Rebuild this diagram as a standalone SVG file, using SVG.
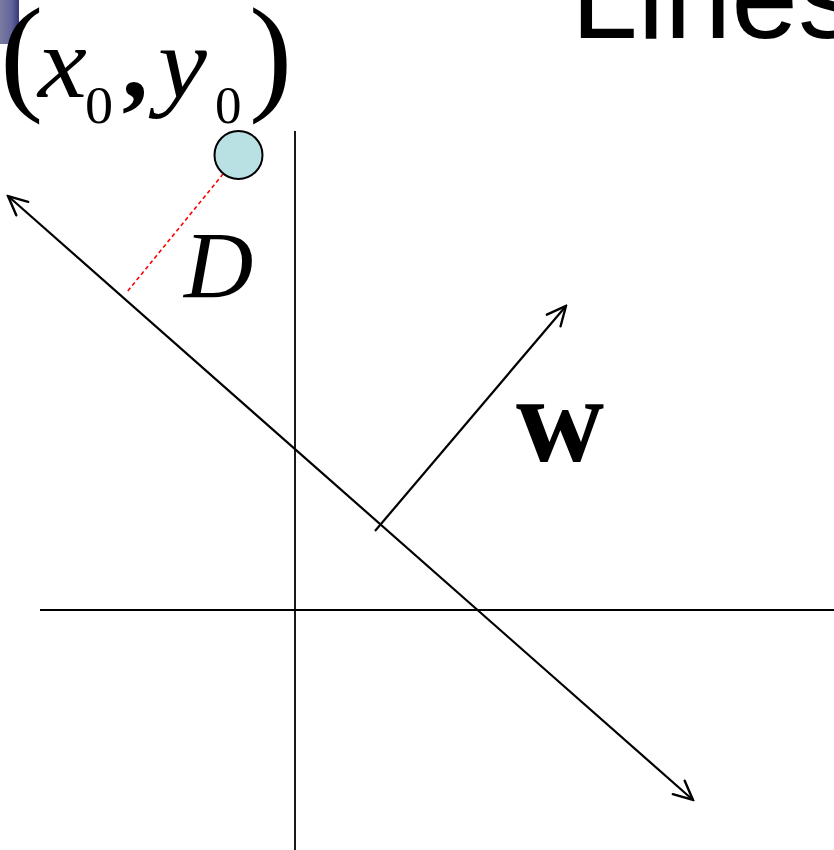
<svg xmlns="http://www.w3.org/2000/svg" width="834" height="850" viewBox="0 0 834 850">
  <style>
    .ax { stroke: #000; stroke-width: 1.8; fill: none; }
    .ln { stroke: #000; stroke-width: 2.2; fill: none; }
    .serif { font-family: "Liberation Serif", "Times New Roman", serif; fill: #000; }
    .it { font-style: italic; }
  </style>
  <defs>
    <marker id="arr" viewBox="-22 -11 24 22" refX="0" refY="0" markerWidth="24" markerHeight="22" markerUnits="userSpaceOnUse" orient="auto-start-reverse">
      <path d="M-19,-9 L0,0 L-19,9" fill="none" stroke="#000" stroke-width="2.4" stroke-linecap="round" stroke-linejoin="miter"/>
    </marker>
    <linearGradient id="img" x1="0" y1="0" x2="1" y2="0">
      <stop offset="0" stop-color="#7c7aa0"/>
      <stop offset="0.6" stop-color="#62659a"/>
      <stop offset="1" stop-color="#34377a"/>
    </linearGradient>
  </defs>
  <rect width="834" height="850" fill="#fff"/>
  <rect id="img-fragment" x="0" y="0" width="19" height="44" fill="url(#img)"/>

  <text id="title" x="571" y="38" font-family="Liberation Sans, Arial, sans-serif" font-size="120" fill="#000">Lines</text>

  <g id="axes">
    <line class="ax" x1="295" y1="131" x2="295" y2="850"/>
    <line class="ax" x1="40" y1="610" x2="834" y2="610"/>
  </g>

  <g id="connectors">
    <line id="main-line" class="ln" x1="8" y1="196" x2="693" y2="800" marker-start="url(#arr)" marker-end="url(#arr)"/>
    <line id="w-vector" class="ln" x1="375" y1="531" x2="566" y2="306" marker-end="url(#arr)"/>
    <line id="distance" x1="232" y1="163" x2="127" y2="292" stroke="#ff0000" stroke-width="1.6" stroke-dasharray="4,3"/>
  </g>

  <g id="point">
    <circle cx="238.5" cy="155" r="24" fill="#b9e0e3" stroke="#000" stroke-width="2"/>
  </g>

  <g id="point-label" class="serif">
    <text x="0" y="97" font-size="130">(</text>
    <text class="it" transform="translate(38,97) scale(1.08,1)" font-size="102">x</text>
    <text transform="translate(85,123) scale(1.08,1)" font-size="52">0</text>
    <text x="122" y="97" font-size="104" font-weight="bold">,</text>
    <text class="it" transform="translate(158,97) scale(1.08,1)" font-size="102">y</text>
    <text transform="translate(215,123) scale(1.02,1)" font-size="52">0</text>
    <text x="249" y="97" font-size="130">)</text>
  </g>

  <g id="d-label" class="serif">
    <text class="it" x="184" y="298" font-size="96">D</text>
  </g>
  <g id="w-label" class="serif">
    <text x="516" y="461" font-size="122" font-weight="bold">w</text>
  </g>
</svg>
